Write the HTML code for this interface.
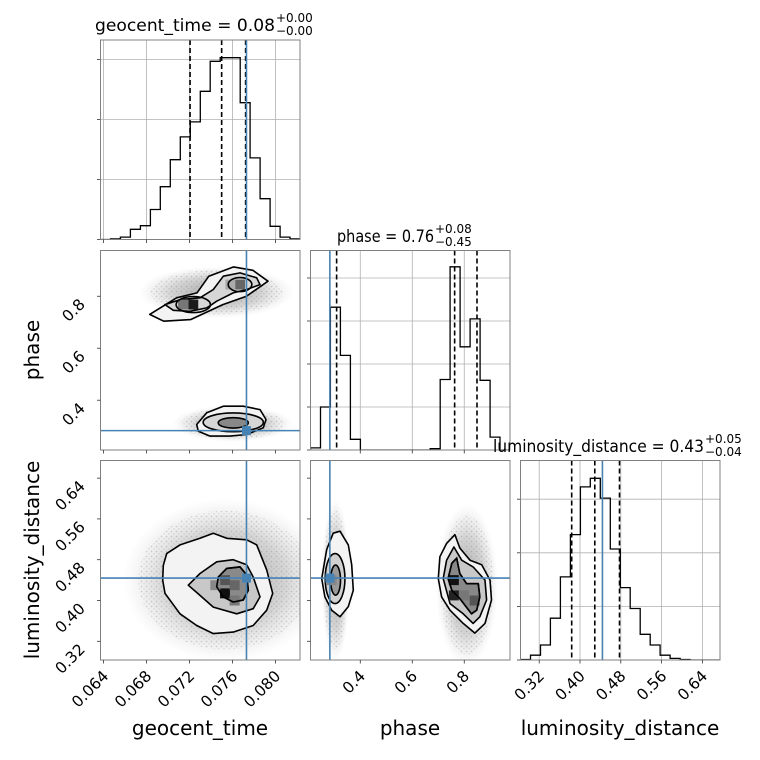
<!DOCTYPE html>
<html><head><meta charset="utf-8"><style>
html,body{margin:0;padding:0;background:#fff;}
svg{display:block;font-family:"DejaVu Sans","Liberation Sans",sans-serif;}
</style></head><body>
<svg id="chart" width="760" height="760" viewBox="0 0 760 760" xmlns="http://www.w3.org/2000/svg">
<defs>
<radialGradient id="cloud" cx="50%" cy="50%" r="50%">
<stop offset="0%" stop-color="#666" stop-opacity="0.6"/>
<stop offset="60%" stop-color="#888" stop-opacity="0.35"/>
<stop offset="100%" stop-color="#bbb" stop-opacity="0"/>
</radialGradient>
<pattern id="dots" width="5" height="5" patternUnits="userSpaceOnUse">
<circle cx="1.5" cy="1.5" r="0.9" fill="#777" fill-opacity="0.5"/>
<circle cx="4" cy="3.8" r="0.8" fill="#888" fill-opacity="0.4"/>
</pattern>
</defs>
<g id="layer"></g>
</svg>
<script>
// ---- data ----
const geoTicks=[64,68,72,76,80];
const geoTickLabels=["0.064","0.068","0.072","0.076","0.080"];
const phaseTicks=[0.4,0.6,0.8];
const phaseTickLabels=["0.4","0.6","0.8"];
const lumTicks=[0.32,0.40,0.48,0.56,0.64];
const lumTickLabels=["0.32","0.40","0.48","0.56","0.64"];
const geoHist=[0,0.01,0.04,0.17,0.23,0.5,0.88,1.33,1.71,1.96,2.47,2.97,3.03,3.03,2.28,1.36,0.68,0.22,0.04,0.01];
const phaseHist=[0.05,1.0,3.32,2.2,0.25,0,0,0,0,0,0,0,0.03,1.64,4.26,2.4,3.05,1.62,0.3,0];
const lumHist=[0.01,0.09,0.28,0.78,1.55,2.34,3.23,3.39,3.02,2.07,1.35,0.96,0.48,0.28,0.09,0.03,0.01,0,0,0];
const geoQuantiles=[72.05,74.99,77.22];
const phaseQuantiles=[0.309,0.763,0.849];
const lumQuantiles=[0.3837,0.429,0.4775];
const truthGeo=77.3, truthPhase=0.283, truthLum=0.444;
const gpOuterUp=[[68.3,0.730],[70.8,0.794],[72.7,0.813],[73.8,0.877],[76.1,0.913],[77.9,0.900],[79.3,0.858],[77.3,0.800],[75.1,0.768],[72.1,0.710],[69.6,0.704]];
const gpMidUp=[[69.72,0.768],[71.12,0.787],[72.98,0.794],[74.21,0.826],[75.14,0.877],[76.7,0.890],[78.25,0.871],[78.56,0.845],[77.32,0.826],[76.07,0.813],[74.53,0.781],[73.6,0.755],[72.05,0.742],[70.49,0.746]];
const gpInnerUp=[[72.35,0.768,1.6,0.031],[76.7,0.845,1.1,0.027]];
const gpOuterLow=[[72.67,0.3065],[73.6,0.3515],[75.14,0.377],[77.0,0.377],[78.56,0.364],[79.12,0.326],[78.87,0.294],[77.32,0.268],[75.77,0.262],[73.91,0.262],[72.82,0.281]];
const gpEllLow=[[76.07,0.315,2.8,0.036],[76.07,0.313,1.4,0.02]];
const glOuter=[[69.56,0.469],[69.88,0.492],[71.12,0.509],[72.98,0.522],[74.21,0.532],[75.46,0.522],[77.32,0.519],[78.25,0.509],[79.18,0.460],[79.74,0.414],[79.18,0.381],[77.93,0.351],[76.07,0.338],[74.21,0.335],[72.67,0.351],[71.12,0.374],[69.72,0.414],[69.51,0.440]];
const glMid=[[71.89,0.430],[72.98,0.453],[74.53,0.476],[76.07,0.480],[77.32,0.470],[77.93,0.446],[78.56,0.407],[77.93,0.384],[76.39,0.374],[74.21,0.387],[72.98,0.410]];
const glInner=[[74.68,0.446],[75.46,0.463],[76.7,0.466],[77.32,0.450],[77.47,0.420],[77.0,0.401],[76.07,0.397],[75.14,0.407],[74.53,0.427]];
const plOuterL=[[0.2515,0.443],[0.271,0.500],[0.296,0.532],[0.322,0.536],[0.354,0.509],[0.367,0.470],[0.373,0.420],[0.354,0.388],[0.322,0.368],[0.290,0.381],[0.264,0.407]];
const plEllL=[[0.303,0.443,0.038,0.049],[0.305,0.440,0.019,0.0295]];
const plOuterR=[[0.700,0.443],[0.7065,0.486],[0.732,0.512],[0.764,0.529],[0.783,0.503],[0.822,0.479],[0.867,0.470],[0.899,0.440],[0.905,0.401],[0.880,0.355],[0.841,0.336],[0.796,0.355],[0.745,0.381],[0.713,0.407]];
const plMidR=[[0.719,0.443],[0.732,0.479],[0.760,0.505],[0.790,0.479],[0.834,0.466],[0.880,0.440],[0.886,0.401],[0.860,0.368],[0.834,0.355],[0.796,0.374],[0.745,0.394]];
const plInnerR=[[0.738,0.443],[0.752,0.473],[0.771,0.483],[0.783,0.453],[0.809,0.433],[0.854,0.433],[0.860,0.407],[0.848,0.381],[0.828,0.374],[0.783,0.404],[0.752,0.420]];
const gpClouds=[[74.5,0.815,7.2,0.1],[76.0,0.31,5.6,0.07]];
const glClouds=[[75.3,0.44,9.5,0.16]];
const plClouds=[[0.305,0.44,0.055,0.16],[0.81,0.43,0.12,0.16]];
const gpCells=[[72.35,0.768,"#1a1a1a"],[71.4,0.768,"#777"],[76.7,0.845,"#666"],[75.8,0.845,"#aaa"],[76.1,0.315,"#777"]];
const glCells=[[75.3,0.414,"#111"],[75.3,0.44,"#555"],[76.2,0.43,"#666"],[74.4,0.43,"#888"],[76.2,0.40,"#777"]];
const plCells=[[0.29,0.44,"#888"],[0.76,0.44,"#111"],[0.76,0.41,"#222"],[0.80,0.41,"#777"],[0.84,0.40,"#555"]];

// ---- scales ----
const W=199.5;
const colX=[100.5,310.5,520.5];
const rowY=[40,250.5,460.5];
const dom=[[63.72,82.28],[0.2085,0.976],[0.2833,0.6746]];
const histUnit=[60,43,53.6];
function X(c,v){return colX[c]+(v-dom[c][0])/(dom[c][1]-dom[c][0])*W;}
function Y(r,v){return rowY[r]+W-(v-dom[r][0])/(dom[r][1]-dom[r][0])*W;}
function HY(c,v){return rowY[c]+W-v*histUnit[c];}
const NS="http://www.w3.org/2000/svg";
const root=document.getElementById('layer');
function mk(tag,attrs,parent){const e=document.createElementNS(NS,tag);for(const k in attrs)e.setAttribute(k,attrs[k]);(parent||root).appendChild(e);return e;}
function pstr(pts,c,r){return pts.map(p=>X(c,p[0]).toFixed(1)+","+Y(r,p[1]).toFixed(1)).join(" ");}
const ticks=[geoTicks,phaseTicks,lumTicks];
const tickLabels=[geoTickLabels,phaseTickLabels,lumTickLabels];

const defs=document.querySelector('defs');
for(let r=0;r<3;r++)for(let c=0;c<=r;c++){
  const cp=mk('clipPath',{id:'clip'+r+c},defs);
  mk('rect',{x:colX[c],y:rowY[r],width:W,height:W},cp);
}

// ---- histograms ----
const hists=[geoHist,phaseHist,lumHist];
const quants=[geoQuantiles,phaseQuantiles,lumQuantiles];
const truths=[truthGeo,truthPhase,truthLum];
const histNames=['geocent-time','phase','luminosity-distance'];
for(let c=0;c<3;c++){
  const g=mk('g',{'clip-path':'url(#clip'+c+c+')'});
  
  
  const base=rowY[c]+W;
  ticks[c].forEach(t=>{const l=mk('line',{x1:X(c,t),x2:X(c,t),y1:rowY[c],y2:base,stroke:'#b0b0b0','stroke-width':0.8},g);
    
    });
  for(let k=1;k<6;k++){const y=HY(c,k);if(y<rowY[c])break;
    const l=mk('line',{x1:colX[c],x2:colX[c]+W,y1:y,y2:y,stroke:'#b0b0b0','stroke-width':0.8},g);
    
    
    const tk=mk('line',{x1:colX[c]-3.5,x2:colX[c],y1:y,y2:y,stroke:'#333','stroke-width':0.8});
    
    }
  const bw=(dom[c][1]-dom[c][0])/20;
  let d="M"+X(c,dom[c][0])+","+base;
  hists[c].forEach((v,i)=>{const lo=dom[c][0]+i*bw,hi=lo+bw;d+=" L"+X(c,lo).toFixed(1)+","+HY(c,v).toFixed(1)+" L"+X(c,hi).toFixed(1)+","+HY(c,v).toFixed(1);});
  d+=" L"+X(c,dom[c][1])+","+base;
  const hp=mk('path',{d:d,fill:'none',stroke:'#000','stroke-width':1.3},g);
  
  
  quants[c].forEach(q=>{const l=mk('line',{x1:X(c,q),x2:X(c,q),y1:rowY[c],y2:base,stroke:'#000','stroke-width':1.6,'stroke-dasharray':'5,3'},g);
    
    });
  const tl=mk('line',{x1:X(c,truths[c]),x2:X(c,truths[c]),y1:rowY[c],y2:base,stroke:'#4682b4','stroke-width':1.6},g);
  
  
  const bt=mk('line',{x1:colX[c]-3.5,x2:colX[c],y1:base,y2:base,stroke:'#333','stroke-width':0.8});
  
  
}

// ---- 2D panels ----
function cloud(arr,c,r,g){arr.forEach(a=>{
  const cx=X(c,a[0]),cy=Y(r,a[1]),rx=Math.abs(X(c,a[0]+a[2])-cx),ry=Math.abs(Y(r,a[1]+a[3])-cy);
  const e=mk('ellipse',{cx:cx,cy:cy,rx:rx,ry:ry,fill:'url(#cloud)'},g);
  
  
  const e2=mk('ellipse',{cx:cx,cy:cy,rx:rx*0.85,ry:ry*0.85,fill:'url(#dots)',opacity:0.6},g);
  
  });}
function polyEl(pts,c,r,g,fill,name){const p=mk('polygon',{points:pstr(pts,c,r),fill:fill,stroke:'#000','stroke-width':1.6,'stroke-linejoin':'round'},g);
  
  return p;}
function ellEl(a,c,r,g,fill,name){const cx=X(c,a[0]),cy=Y(r,a[1]);
  const e=mk('ellipse',{cx:cx,cy:cy,rx:Math.abs(X(c,a[0]+a[2])-cx),ry:Math.abs(Y(r,a[1]+a[3])-cy),fill:fill,stroke:'#000','stroke-width':1.6},g);
  
  }
function cells(arr,c,r,g){const bw=(dom[c][1]-dom[c][0])/20,bh=(dom[r][1]-dom[r][0])/20;
  arr.forEach(a=>{const x0=X(c,a[0]-bw/2),y0=Y(r,a[1]+bh/2);
  const q=mk('rect',{x:x0,y:y0,width:X(c,a[0]+bw/2)-x0,height:Y(r,a[1]-bh/2)-y0,fill:a[2]},g);
  
  });}
function truthCross(c,r,xv,yv,g){
  const v=mk('line',{x1:X(c,xv),x2:X(c,xv),y1:rowY[r],y2:rowY[r]+W,stroke:'#4682b4','stroke-width':1.6},g);
  
  
  const h=mk('line',{x1:colX[c],x2:colX[c]+W,y1:Y(r,yv),y2:Y(r,yv),stroke:'#4682b4','stroke-width':1.6},g);
  
  
  const m=mk('rect',{x:X(c,xv)-4.5,y:Y(r,yv)-4.5,width:9,height:9,fill:'#4682b4'},g);
  
  }

let g=mk('g',{'clip-path':'url(#clip10)'});


cloud(gpClouds,0,1,g);
polyEl(gpOuterUp,0,1,g,'#f3f3f3','contour-outer');
polyEl(gpMidUp,0,1,g,'#d6d6d6','contour-middle');
cells(gpCells.slice(0,4),0,1,g);
gpInnerUp.forEach(a=>ellEl(a,0,1,g,'none','contour-inner'));
polyEl(gpOuterLow,0,1,g,'#f3f3f3','contour-outer');
ellEl(gpEllLow[0],0,1,g,'#d6d6d6','contour-middle');
ellEl(gpEllLow[1],0,1,g,'#888','contour-inner');
truthCross(0,1,truthGeo,truthPhase,g);

g=mk('g',{'clip-path':'url(#clip20)'});


cloud(glClouds,0,2,g);
polyEl(glOuter,0,2,g,'#f3f3f3','contour-outer');
polyEl(glMid,0,2,g,'#c8c8c8','contour-middle');
polyEl(glInner,0,2,g,'#8a8a8a','contour-inner');
cells(glCells,0,2,g);
let il=mk('polygon',{points:pstr(glInner,0,2),fill:'none',stroke:'#000','stroke-width':1.6},g);


truthCross(0,2,truthGeo,truthLum,g);

g=mk('g',{'clip-path':'url(#clip21)'});


cloud(plClouds,1,2,g);
polyEl(plOuterL,1,2,g,'#f3f3f3','contour-outer');
ellEl(plEllL[0],1,2,g,'#d0d0d0','contour-middle');
ellEl(plEllL[1],1,2,g,'#999','contour-inner');
polyEl(plOuterR,1,2,g,'#f3f3f3','contour-outer');
polyEl(plMidR,1,2,g,'#c8c8c8','contour-middle');
polyEl(plInnerR,1,2,g,'#888','contour-inner');
cells(plCells,1,2,g);
let ir=mk('polygon',{points:pstr(plInnerR,1,2),fill:'none',stroke:'#000','stroke-width':1.6},g);


truthCross(1,2,truthPhase,truthLum,g);

// ---- frames & ticks ----
for(let r=0;r<3;r++)for(let c=0;c<=r;c++){
  const f=mk('rect',{x:colX[c],y:rowY[r],width:W,height:W,fill:'none',stroke:'#808080','stroke-width':1});
  
  
  ticks[c].forEach((t,i)=>{const x=X(c,t);
    const tk=mk('line',{x1:x,x2:x,y1:rowY[r]+W,y2:rowY[r]+W+3.5,stroke:'#333','stroke-width':0.8});
    
    
    if(r===2){const px=x+6,py=rowY[r]+W+17;
      const tx=mk('text',{x:px,y:py,'text-anchor':'end','font-size':15.5,fill:'#000',transform:'rotate(-45 '+px+' '+py+')'});
      tx.textContent=tickLabels[c][i];
      
      }});
  if(c===0&&r>0){ticks[r].forEach((t,i)=>{const y=Y(r,t);
    const tk=mk('line',{x1:colX[0]-3.5,x2:colX[0],y1:y,y2:y,stroke:'#333','stroke-width':0.8});
    
    
    const px=86,py=y+9;
    const tx=mk('text',{x:px,y:py,'text-anchor':'end','font-size':15.5,fill:'#000',transform:'rotate(-45 '+px+' '+py+')'});
    tx.textContent=tickLabels[r][i];
    
    });}
  else if(c>0&&r!==c){ticks[r].forEach(t=>{const y=Y(r,t);
    const tk=mk('line',{x1:colX[c]-3.5,x2:colX[c],y1:y,y2:y,stroke:'#333','stroke-width':0.8});
    
    });}
}
// ---- labels ----
function label(txt,x,y,rot,name){const t=mk('text',{x:x,y:y,'text-anchor':'middle','font-size':20,fill:'#000'});
  if(rot)t.setAttribute('transform','rotate(-90 '+x+' '+y+')');
  t.textContent=txt;
  
  }
label('geocent_time',200,735,false,'x-axis-title-geocent-time');
label('phase',410,735,false,'x-axis-title-phase');
label('luminosity_distance',620,735,false,'x-axis-title-luminosity-distance');
label('phase',39,350,true,'y-axis-title-phase');
label('luminosity_distance',39,560,true,'y-axis-title-luminosity-distance');
function title(main,sup,sub,xEnd,y,len,name){
  const t=mk('text',{x:xEnd-len,y:y,'font-size':17,fill:'#000',textLength:len,lengthAdjust:'spacingAndGlyphs'});
  t.textContent=main;
  
  
  const a=mk('text',{x:xEnd+1,y:y-9,'font-size':12,fill:'#000'});
  a.textContent=sup;
  
  
  const b=mk('text',{x:xEnd+1,y:y+4,'font-size':12,fill:'#000'});
  b.textContent=sub;
  
  }
title('geocent_time = 0.08','+0.00','\u22120.00',275,31,180,'title-geocent-time');
title('phase = 0.76','+0.08','\u22120.45',434,242,97,'title-phase');
title('luminosity_distance = 0.43','+0.05','\u22120.04',704,452,211,'title-luminosity-distance');
</script>
</body></html>
